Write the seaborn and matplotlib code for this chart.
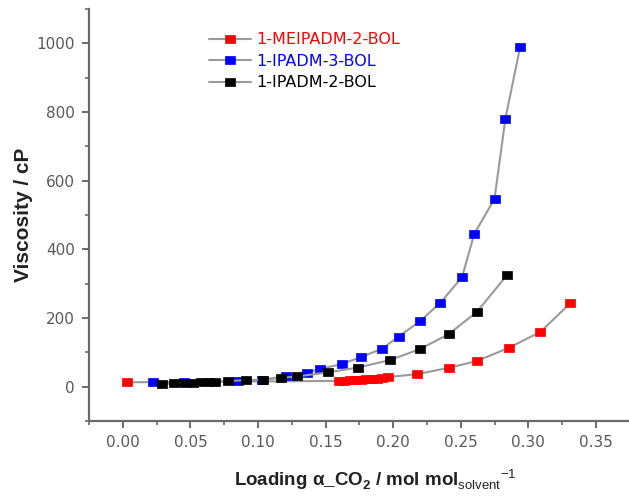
import matplotlib
matplotlib.use("Agg")
import matplotlib.pyplot as plt
import seaborn as sns
import pandas as pd
from matplotlib.lines import Line2D
from matplotlib.ticker import MultipleLocator

# Data
red_x = [0.003, 0.160, 0.164, 0.168, 0.172, 0.176, 0.180, 0.184, 0.188, 0.192, 0.196,
         0.218, 0.241, 0.262, 0.286, 0.309, 0.331]
red_y = [13, 17, 18, 19, 20, 21, 22, 23, 24, 26, 28, 37, 55, 75, 114, 160, 243]

blue_x = [0.022, 0.045, 0.085, 0.103, 0.121, 0.136, 0.146, 0.162, 0.176, 0.192,
          0.204, 0.220, 0.235, 0.251, 0.260, 0.275, 0.283, 0.294]
blue_y = [13, 14, 17, 20, 31, 41, 52, 66, 86, 111, 146, 191, 245, 319, 445, 547, 779, 990]

black_x = [0.029, 0.038, 0.046, 0.052, 0.058, 0.064, 0.068, 0.078, 0.091, 0.104,
           0.117, 0.129, 0.152, 0.174, 0.198, 0.220, 0.241, 0.262, 0.284]
black_y = [7, 10, 11, 12, 13, 14, 15, 17, 19, 21, 26, 30, 42, 56, 78, 110, 153, 218, 324]

labels = ["1-MEIPADM-2-BOL", "1-IPADM-3-BOL", "1-IPADM-2-BOL"]
colors = ["#ff0000", "#0000ff", "#000000"]
xtick_vals = [0.0, 0.05, 0.10, 0.15, 0.20, 0.25, 0.30, 0.35]
xtick_labels = ["0.00", "0.05", "0.10", "0.15", "0.20", "0.25", "0.30", "0.35"]
ytick_vals = [0, 200, 400, 600, 800, 1000]

sns.set_style("ticks")
plt.rcParams['font.family'] = ['Liberation Sans', 'DejaVu Sans']
plt.rcParams['mathtext.fontset'] = 'custom'
plt.rcParams['mathtext.rm'] = 'Liberation Sans'
plt.rcParams['mathtext.bf'] = 'Liberation Sans:bold'

fig = plt.figure(figsize=(6.29, 4.96), dpi=100)
ax = fig.add_axes([0.1415, 0.151, 0.8585, 0.831])

# slightly wide square marker (reference looks horizontally stretched)
rect = [(-1.15, -1), (1.15, -1), (1.15, 1), (-1.15, 1), (-1.15, -1)]

series = [(red_x, red_y), (blue_x, blue_y), (black_x, black_y)]
line_col = "#9a9a9a"
for (xs, ys), lab, c in zip(series, labels, colors):
    df = pd.DataFrame({"x": xs, "y": ys})
    sns.lineplot(data=df, x="x", y="y", ax=ax, color=line_col, lw=1.5,
                 marker=rect, markersize=6.5, markerfacecolor=c, markeredgecolor=c,
                 markeredgewidth=0.5, estimator=None, sort=False)

ax.set_xlim(-0.025, 0.3745)
ax.set_ylim(-100, 1100)
ax.xaxis.set_minor_locator(MultipleLocator(0.025))
ax.yaxis.set_minor_locator(MultipleLocator(100))
ax.set_xticks(xtick_vals)
ax.set_xticklabels(xtick_labels)
ax.set_yticks(ytick_vals)

for s in ["top", "right"]:
    ax.spines[s].set_visible(False)
for s in ["left", "bottom"]:
    ax.spines[s].set_color("#6a6a6a")
    ax.spines[s].set_linewidth(1.6)

ax.tick_params(which="major", direction="out", length=5, width=1.4, color="#6a6a6a",
               labelcolor="#5a5a5a", pad=5)
ax.tick_params(which="minor", direction="out", length=3, width=1.2, color="#6a6a6a")
for t in ax.get_xticklabels() + ax.get_yticklabels():
    t.set_fontfamily("DejaVu Sans")
    t.set_fontsize(11)

ax.set_ylabel("Viscosity / cP", fontsize=15, fontweight="bold", color="#222222")
ax.yaxis.set_label_coords(-0.103, 0.5)
ax.set_xlabel(r"Loading α_CO$_{\mathbf{2}}$ / mol mol$_{\mathrm{solvent}}$$^{\mathrm{-1}}$",
              fontsize=13.5, fontweight="bold", color="#222222")
ax.xaxis.set_label_coords(0.53, -0.112)

handles = [Line2D([0], [0], color=line_col, lw=1.5, marker=rect, markersize=6.5,
                  markerfacecolor=c, markeredgecolor=c, markeredgewidth=0.5) for c in colors]
leg = ax.legend(handles, labels, loc="upper left", bbox_to_anchor=(0.196, 0.978),
                frameon=False, prop={"family": "DejaVu Sans", "size": 11.5},
                handlelength=2.6, handletextpad=0.35,
                labelspacing=0.4, labelcolor=colors)

fig.savefig("out.png", dpi=100)
